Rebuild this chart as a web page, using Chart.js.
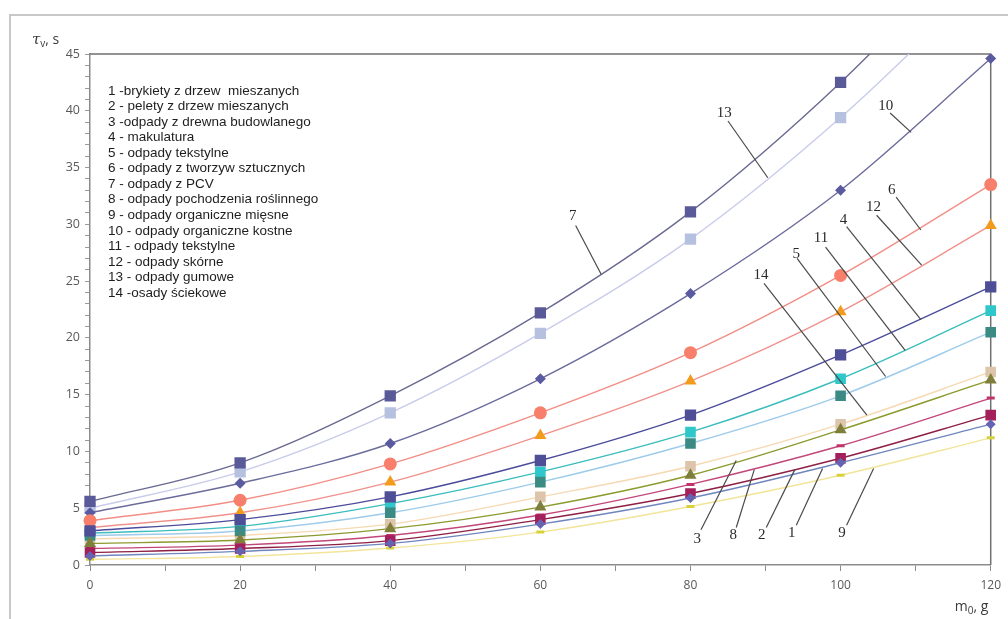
<!DOCTYPE html>
<html>
<head>
<meta charset="utf-8">
<script src="https://cdn.jsdelivr.net/npm/chart.js@4.4.1/dist/chart.umd.min.js"></script>
<style>
  html, body { margin: 0; padding: 0; background: #ffffff; }
  canvas { display: block; }
</style>
</head>
<body>
<canvas id="chart" width="1008" height="619"></canvas>
<script>
// Sample mass m0 [g]
const masses = [0, 20, 40, 60, 80, 100, 120];

// Ignition time τv [s] for each waste type
const s1  = [0.8, 1.2, 1.9, 3.6, 5.9, 9.0, 12.4];
const s2  = [1.1, 1.45, 2.15, 4.0, 6.3, 9.4, 13.2];
const s3  = [1.9, 2.2, 3.2, 5.1, 7.9, 11.9, 16.3];
const s4  = [3.0, 4.0, 6.0, 9.2, 13.2, 18.5, 24.5];
const s5  = [2.6, 3.0, 4.6, 7.3, 10.7, 14.9, 20.5];
const s6  = [3.9, 5.7, 8.9, 13.4, 18.7, 25.5, 33.5];
const s7  = [5.6, 9.0, 14.9, 22.2, 31.1, 42.5, 56.0];
const s8  = [1.45, 1.75, 2.6, 4.4, 7.1, 10.5, 14.7];
const s9  = [0.5, 0.75, 1.5, 2.9, 5.15, 7.9, 11.2];
const s10 = [4.6, 7.2, 10.7, 16.4, 23.9, 33.0, 44.6];
const s11 = [2.8, 3.4, 5.4, 8.2, 11.7, 16.4, 22.4];
const s12 = [3.3, 4.6, 7.3, 11.4, 16.2, 22.3, 29.9];
const s13 = [5.0, 8.2, 13.4, 20.4, 28.7, 39.4, 52.0];
const s14 = [2.3, 2.6, 3.6, 6.0, 8.7, 12.4, 17.0];

// Legend entries
const legendLabels = [
  '1 -brykiety z drzew  mieszanych',
  '2 - pelety z drzew mieszanych',
  '3 -odpady z drewna budowlanego',
  '4 - makulatura',
  '5 - odpady tekstylne',
  '6 - odpady z tworzyw sztucznych',
  '7 - odpady z PCV',
  '8 - odpady pochodzenia roślinnego',
  '9 - odpady organiczne mięsne',
  '10 - odpady organiczne kostne',
  '11 - odpady tekstylne',
  '12 - odpady skórne',
  '13 - odpady gumowe',
  '14 -osady ściekowe'
];

const seriesValues = [s1, s2, s3, s4, s5, s6, s7, s8, s9, s10, s11, s12, s13, s14];

// Appearance of each series: line colour, marker colour, marker shape, marker radius
const seriesStyles = [
  { line: '#6F86BE', point: '#6464B2', shape: 'rectRot',  r: 5 },
  { line: '#8E1F45', point: '#A3205B', shape: 'rect',     r: 7.5 },
  { line: '#8C9A2E', point: '#7F7F3C', shape: 'triangle', r: 7 },
  { line: '#4C4C9C', point: '#4F4F97', shape: 'rect',     r: 8 },
  { line: '#9DCBEA', point: '#3C8A84', shape: 'rect',     r: 7.5 },
  { line: '#F28E86', point: '#F77F6C', shape: 'circle',   r: 6.5 },
  { line: '#6A6A92', point: '#5A5A99', shape: 'rect',     r: 8 },
  { line: '#C2477A', point: '#C2336B', shape: 'line',     r: 4, bw: 3 },
  { line: '#F2E59A', point: '#D8D23A', shape: 'line',     r: 4, bw: 3 },
  { line: '#6C6C9C', point: '#5A5AA0', shape: 'rectRot',  r: 5.5 },
  { line: '#3CBDBD', point: '#2FC7C9', shape: 'rect',     r: 7.5 },
  { line: '#F0928C', point: '#F39B1D', shape: 'triangle', r: 7 },
  { line: '#C9CCEA', point: '#B5C1DF', shape: 'rect',     r: 8 },
  { line: '#F6D9B2', point: '#DCC5AA', shape: 'rect',     r: 7.5 }
];

// Curve number callouts: label, text anchor (m, τ), leader start (m, τ), leader end (m, τ)
const callouts = [
  ['13', 84.5, 39.8, 85.0, 39.1, 90.3, 34.1],
  ['7',  64.3, 30.7, 64.7, 29.9, 68.1, 25.6],
  ['10', 106.0, 40.4, 106.6, 39.8, 109.4, 38.1],
  ['6',  106.8, 33.0, 107.4, 32.4, 110.7, 29.5],
  ['12', 104.4, 31.5, 104.8, 30.8, 110.8, 26.4],
  ['4',  100.4, 30.4, 100.8, 29.8, 110.7, 21.6],
  ['11', 97.4, 28.8, 98.0, 28.0, 108.6, 18.9],
  ['5',  94.1, 27.4, 94.2, 27.0, 106.0, 16.6],
  ['14', 89.4, 25.5, 89.8, 24.8, 103.5, 13.2],
  ['3',  80.9, 2.3, 81.4, 3.1, 86.1, 9.2],
  ['8',  85.7, 2.6, 86.1, 3.3, 88.5, 8.4],
  ['2',  89.5, 2.6, 90.1, 3.3, 93.9, 8.4],
  ['1',  93.5, 2.8, 94.1, 3.5, 97.6, 8.5],
  ['9',  100.2, 2.8, 100.8, 3.5, 104.4, 8.5]
];

const datasets = seriesValues.map((vals, i) => {
  const st = seriesStyles[i];
  return {
    label: legendLabels[i],
    data: masses.map((m, k) => ({ x: m, y: vals[k] })),
    borderColor: st.line,
    borderWidth: 1.4,
    backgroundColor: st.point,
    pointStyle: st.shape,
    pointRadius: st.r,
    pointHoverRadius: st.r,
    pointBackgroundColor: st.point,
    pointBorderColor: st.point,
    pointBorderWidth: st.bw || 0,
    cubicInterpolationMode: 'monotone',
    fill: false,
    clip: { left: 12, right: 12, top: 0, bottom: 12 }
  };
});

const decor = {
  id: 'decor',
  beforeDraw(chart) {
    const ctx = chart.ctx;
    ctx.save();
    ctx.fillStyle = '#ffffff';
    ctx.fillRect(0, 0, chart.width, chart.height);
    // page frame
    ctx.strokeStyle = '#c8c8c8';
    ctx.lineWidth = 2;
    ctx.beginPath();
    ctx.moveTo(10, chart.height);
    ctx.lineTo(10, 15);
    ctx.lineTo(chart.width, 15);
    ctx.stroke();
    ctx.restore();
  },
  beforeDatasetsDraw(chart) {
    const { ctx, chartArea: a } = chart;
    ctx.save();
    ctx.strokeStyle = '#707070';
    ctx.lineWidth = 1.5;
    ctx.beginPath();
    ctx.moveTo(a.left, a.top);
    ctx.lineTo(a.right, a.top);
    ctx.lineTo(a.right, a.bottom);
    ctx.stroke();
    ctx.restore();
  },
  afterDatasetsDraw(chart) {
    const { ctx, chartArea: a, scales } = chart;
    const xs = scales.x, ys = scales.y;
    ctx.save();

    // legend list
    ctx.fillStyle = '#1e1e1e';
    ctx.font = '13.5px "Liberation Sans", Arial, sans-serif';
    ctx.textAlign = 'left';
    ctx.textBaseline = 'middle';
    legendLabels.forEach((t, i) => {
      ctx.fillText(t, a.left + 18, a.top + 37 + i * 15.54);
    });

    // curve callouts
    ctx.strokeStyle = '#4a4a4a';
    ctx.lineWidth = 1.2;
    ctx.fillStyle = '#2a2a2a';
    ctx.font = '15px "Liberation Serif", "DejaVu Serif", serif';
    ctx.textAlign = 'center';
    ctx.textBaseline = 'middle';
    callouts.forEach(([t, tm, tt, m0, t0, m1, t1]) => {
      ctx.beginPath();
      ctx.moveTo(xs.getPixelForValue(m0), ys.getPixelForValue(t0));
      ctx.lineTo(xs.getPixelForValue(m1), ys.getPixelForValue(t1));
      ctx.stroke();
      ctx.fillText(t, xs.getPixelForValue(tm), ys.getPixelForValue(tt));
    });

    // axis titles
    ctx.fillStyle = '#3c3c3c';
    ctx.textAlign = 'left';
    ctx.textBaseline = 'alphabetic';
    ctx.font = 'italic 15px "DejaVu Serif", serif';
    let x0 = a.left - 58, y0 = a.top - 10;
    ctx.fillText('τ', x0, y0);
    x0 += ctx.measureText('τ').width;
    ctx.font = '10px "Open Sans", sans-serif';
    ctx.fillText('v', x0, y0 + 3);
    x0 += ctx.measureText('v').width;
    ctx.font = '14px "Open Sans", sans-serif';
    ctx.fillText(', s', x0, y0);

    let x1 = a.right - 36, y1 = a.bottom + 46;
    ctx.font = '14px "Open Sans", sans-serif';
    ctx.fillText('m', x1, y1);
    x1 += ctx.measureText('m').width;
    ctx.font = '10px "Open Sans", sans-serif';
    ctx.fillText('0', x1, y1 + 3);
    x1 += ctx.measureText('0').width;
    ctx.font = '14px "Open Sans", sans-serif';
    ctx.fillText(', g', x1, y1);

    ctx.restore();
  }
};

new Chart(document.getElementById('chart'), {
  type: 'line',
  data: { datasets },
  options: {
    responsive: false,
    animation: false,
    devicePixelRatio: 1,
    layout: { padding: { left: 0, top: 54, right: 16, bottom: 0 } },
    plugins: { legend: { display: false }, tooltip: { enabled: false } },
    scales: {
      x: {
        type: 'linear',
        min: 0, max: 120,
        afterFit(s) { s.height = 54; },
        ticks: {
          stepSize: 10, autoSkip: false, maxRotation: 0, padding: 7,
          color: '#595959', font: { family: '"Open Sans", sans-serif', size: 12 },
          callback: v => (v % 20 === 0 ? String(v) : '')
        },
        grid: { drawOnChartArea: false, drawTicks: true, tickLength: 6, color: '#8c8c8c', tickColor: '#8c8c8c' },
        border: { display: true, color: '#8c8c8c', width: 1.5 }
      },
      y: {
        type: 'linear',
        min: 0, max: 45,
        afterFit(s) { s.width = 90; },
        ticks: {
          stepSize: 1, autoSkip: false, padding: 5,
          color: '#595959', font: { family: '"Open Sans", sans-serif', size: 12.5 },
          callback: v => (v % 5 === 0 ? String(v) : '')
        },
        grid: { drawOnChartArea: false, drawTicks: true, tickLength: 5, color: '#8c8c8c', tickColor: '#9a9a9a' },
        border: { display: true, color: '#8c8c8c', width: 1.5 }
      }
    }
  },
  plugins: [decor]
});
</script>
</body>
</html>
